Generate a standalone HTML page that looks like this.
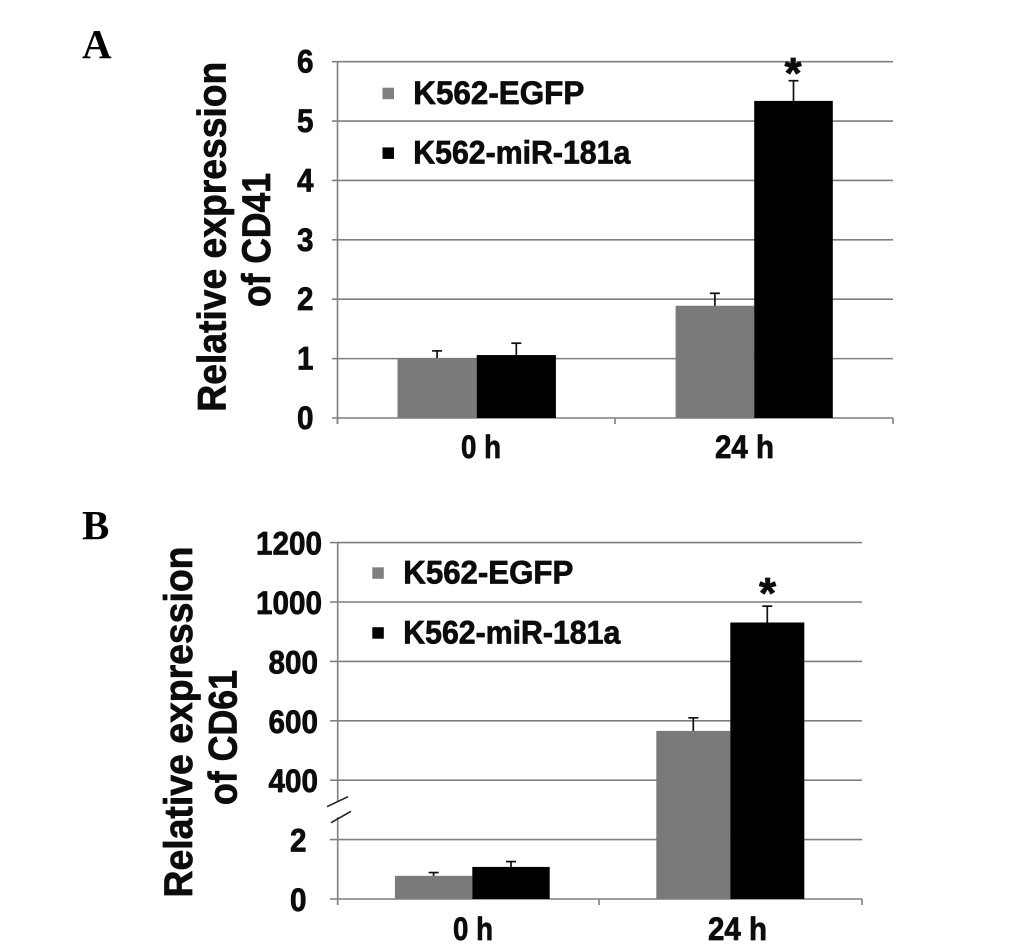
<!DOCTYPE html>
<html lang="en">
<head>
<meta charset="utf-8">
<title>Relative expression of CD41 and CD61</title>
<style>
html,body{margin:0;padding:0;background:#fff;width:1033px;height:952px;overflow:hidden}
svg{display:block;filter:blur(0.35px)}
text{font-family:"Liberation Sans",Arial,sans-serif;font-weight:bold;fill:#0c0c0c;stroke:#0c0c0c;stroke-width:0.75px;stroke-linejoin:round}
text.serif{font-family:"Liberation Serif","Times New Roman",serif;fill:#000;stroke:none}
</style>
</head>
<body>
<svg id="figure" xmlns="http://www.w3.org/2000/svg" width="1033" height="952" viewBox="0 0 1033 952"></svg>
<script>
// Shared data
const categories = ['0 h', '24 h'];
const seriesNames = ['K562-EGFP', 'K562-miR-181a'];

// Panel A: CD41
const cd41TickLabels = ['0', '1', '2', '3', '4', '5', '6'];
const cd41EGFP = [1.01, 1.89];
const cd41Mir181a = [1.06, 5.34];
const cd41EGFPError = [0.12, 0.21];
const cd41Mir181aError = [0.20, 0.34];

// Panel B: CD61 (broken axis)
const cd61TickLabels = ['0', '2', '400', '600', '800', '1000', '1200'];
const cd61TickValues = [0, 2, 400, 600, 800, 1000, 1200];
const cd61EGFP = [0.78, 566];
const cd61Mir181a = [1.08, 931];
const cd61EGFPError = [0.11, 44];
const cd61Mir181aError = [0.18, 55];

const NS = 'http://www.w3.org/2000/svg';
const svg = document.getElementById('figure');

function mk(parent, tag, attrs, name, text) {
  const el = document.createElementNS(NS, tag);
  for (const k in attrs) el.setAttribute(k, attrs[k]);
  
  
  if (text !== undefined) el.textContent = text;
  parent.appendChild(el);
  return el;
}

const GRID = '#7f7f7f', GREY = '#7a7a7a', BLACK = '#000';

function drawPanel(p) {
  const g = mk(svg, 'g', {}, p.name);
  // gridlines and y ticks
  p.tickValues.forEach((v, i) => {
    const y = p.y(v);
    const lab = p.tickLabels[i];
    mk(g, 'line', {x1: p.tickLeft, x2: p.right, y1: y, y2: y, stroke: GRID, 'stroke-width': 1.6}, 'gridline-' + lab);
    mk(g, 'text', {x: p.labelEnd(lab), y: y + p.labelDy, 'text-anchor': 'end', 'font-size': 32.5, textLength: lab.length * 16.5, lengthAdjust: 'spacingAndGlyphs'}, 'y-tick-label-' + lab, lab);
  });
  // axis
  p.axisSegments.forEach((s, i) => {
    mk(g, 'line', {x1: p.left, x2: p.left, y1: s[0], y2: s[1], stroke: GRID, 'stroke-width': 1.6}, 'y-axis-line-' + (i + 1));
  });
  [p.left, p.mid, p.right].forEach((x, i) => {
    mk(g, 'line', {x1: x, x2: x, y1: p.y(0), y2: p.y(0) + 6, stroke: GRID, 'stroke-width': 1.6}, 'x-tick-' + (i + 1));
  });
  // bars and error bars
  const series = [
    {vals: p.a, errs: p.aErr, color: GREY, offset: -1, key: 'egfp'},
    {vals: p.b, errs: p.bErr, color: BLACK, offset: 0, key: 'mir181a'}
  ];
  series.forEach(s => {
    categories.forEach((c, i) => {
      const cx = p.catX(i);
      const w = p.barW[i];
      const bx = cx + s.offset * w;
      const top = p.y(s.vals[i]);
      const capY = p.y(s.vals[i] + s.errs[i]);
      const ex = bx + w / 2;
      mk(g, 'line', {x1: ex, x2: ex, y1: top + 1, y2: capY, stroke: '#111', 'stroke-width': 1.7}, 'error-bar-' + s.key + '-' + c.replace(' ', ''));
      mk(g, 'line', {x1: ex - 5, x2: ex + 5, y1: capY, y2: capY, stroke: '#111', 'stroke-width': 1.7}, 'error-cap-' + s.key + '-' + c.replace(' ', ''));
      mk(g, 'rect', {x: bx, y: top, width: w, height: p.y(0) - top, fill: s.color}, 'bar-' + s.key + '-' + c.replace(' ', ''));
    });
  });
  // x labels
  categories.forEach((c, i) => {
    mk(g, 'text', {x: p.xLabelX[i], y: p.xLabelY, 'font-size': 32, textLength: p.xLabelLen[i], lengthAdjust: 'spacingAndGlyphs'}, 'x-label-' + c.replace(' ', ''), c);
  });
  // y title
  mk(g, 'text', {transform: 'translate(' + p.title[0] + ',' + p.title[1] + ') rotate(-90)', 'text-anchor': 'middle', 'font-size': 40, textLength: p.title[2], lengthAdjust: 'spacingAndGlyphs'}, 'y-axis-title-line-1', 'Relative expression');
  mk(g, 'text', {transform: 'translate(' + p.sub[0] + ',' + p.sub[1] + ') rotate(-90)', 'text-anchor': 'middle', 'font-size': 40, textLength: p.sub[2], lengthAdjust: 'spacingAndGlyphs'}, 'y-axis-title-line-2', p.subText);
  // legend
  const leg = mk(g, 'g', {}, 'legend');
  seriesNames.forEach((n, i) => {
    mk(leg, 'rect', {x: p.legend.sx, y: p.legend.sy[i], width: 11.5, height: 11.5, fill: i ? BLACK : '#808080'}, 'legend-swatch-' + (i + 1));
    mk(leg, 'text', {x: p.legend.tx, y: p.legend.ty[i], 'font-size': 32.5, textLength: p.legend.tl[i], lengthAdjust: 'spacingAndGlyphs'}, 'legend-label-' + (i + 1), n);
  });
  // significance asterisk
  mk(g, 'text', {x: p.star[0], y: p.star[1], 'text-anchor': 'middle', 'font-size': 44}, 'significance-asterisk', '*');
  // panel letter
  mk(g, 'text', {x: 82, y: p.letter[1], 'font-size': 41, class: 'serif'}, 'panel-letter-' + p.letter[0], p.letter[0]);
}

// Panel A scale
const aZero = 418, aTop = 61.7, aMax = 6;
function yA(v) { return aZero - (v / aMax) * (aZero - aTop); }

// Panel B broken scale
const bZero = 899, bStep = 59.4;
function yB(v) {
  if (v <= 2) return bZero - (v / 2) * bStep;
  if (v <= 400) return bZero - bStep - ((v - 2) / 398) * bStep;
  return bZero - 2 * bStep - ((v - 400) / 200) * bStep;
}

drawPanel({
  name: 'panel-a-cd41',
  y: yA, tickValues: cd41TickLabels.map(Number), tickLabels: cd41TickLabels,
  left: 337.5, mid: 615, right: 893, tickLeft: 332,
  axisSegments: [[aTop, aZero + 6]],
  labelEnd: () => 313.5, labelDy: 11,
  a: cd41EGFP, b: cd41Mir181a, aErr: cd41EGFPError, bErr: cd41Mir181aError,
  catX: i => 476.7 + 277.5 * i, barW: [79.2, 78.6],
  xLabelX: [461, 715], xLabelY: 458, xLabelLen: [40, 59],
  title: [225.5, 236.7, 350], sub: [270, 240, 134], subText: 'of CD41',
  legend: {sx: 382.5, sy: [87.7, 147.4], tx: 413.3, ty: [104, 163.5], tl: [171, 217]},
  star: [793, 88], letter: ['A', 58]
});

drawPanel({
  name: 'panel-b-cd61',
  y: yB, tickValues: cd61TickValues, tickLabels: cd61TickLabels,
  left: 337.7, mid: 599, right: 862, tickLeft: 330,
  axisSegments: [[yB(1200), 802], [817, bZero + 6]],
  labelEnd: s => s.length === 4 ? 322 : s.length === 3 ? 318 : 306.5, labelDy: 12,
  a: cd61EGFP, b: cd61Mir181a, aErr: cd61EGFPError, bErr: cd61Mir181aError,
  catX: i => 472.3 + 258 * i, barW: [77.4, 74],
  xLabelX: [453, 708], xLabelY: 940, xLabelLen: [40, 59],
  title: [192, 722, 351], sub: [236.7, 737.5, 135], subText: 'of CD61',
  legend: {sx: 372.3, sy: [567.3, 627.2], tx: 403.3, ty: [583.3, 643.3], tl: [170, 217]},
  star: [767.5, 608], letter: ['B', 539]
});

// Axis-break marks on panel B
mk(svg, 'line', {x1: 327, y1: 806.7, x2: 348, y2: 796.7, stroke: '#222', 'stroke-width': 1.6}, 'axis-break-mark-upper');
mk(svg, 'line', {x1: 331, y1: 822.7, x2: 351, y2: 811.3, stroke: '#222', 'stroke-width': 1.6}, 'axis-break-mark-lower');
</script>
</body>
</html>
